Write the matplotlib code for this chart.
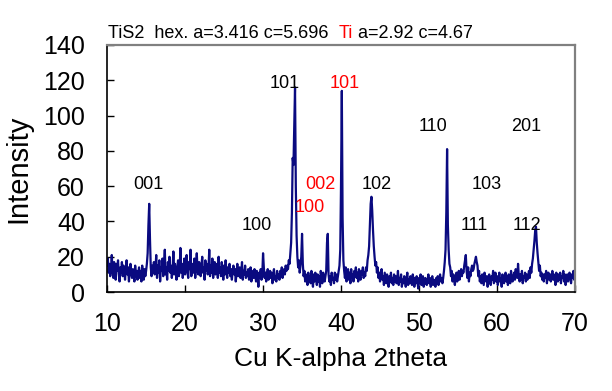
#!/usr/bin/env python
# XRD pattern of TiS2 / Ti film, Cu K-alpha

import numpy as np
import matplotlib
matplotlib.use("Agg")
from matplotlib import pyplot as plt

plt.rcParams['font.family'] = ['Liberation Sans Narrow', 'Liberation Sans', 'DejaVu Sans']

# 2theta sampling, 10.0 .. 70.0 in 0.1 steps
two_theta = np.arange(100, 701) / 10.0

# intensity, one row per degree
intensity = [
    15, 19, 11, 16, 9, 14, 21, 12, 8, 17,     # 10
    13, 7, 16, 12, 18, 10, 6, 14, 11, 17,     # 11
    9, 15, 12, 7, 13, 18, 10, 14, 6, 12,      # 12
    16, 10, 8, 13, 11, 6, 15, 9, 12, 7,       # 13
    11, 14, 8, 12, 6, 15, 10, 7, 13, 9,       # 14
    12, 16, 22, 38, 50, 30, 14, 9, 15, 11,    # 15
    17, 10, 13, 21, 8, 15, 11, 18, 6, 14,     # 16
    12, 19, 9, 16, 24, 10, 14, 7, 17, 12,     # 17
    20, 11, 15, 8, 13, 23, 10, 16, 12, 7,     # 18
    14, 18, 9, 12, 25, 11, 16, 8, 13, 19,     # 19
    10, 15, 21, 12, 8, 17, 13, 24, 9, 14,     # 20
    16, 11, 19, 8, 14, 22, 12, 10, 17, 13,    # 21
    9, 15, 20, 11, 14, 7, 18, 12, 16, 10,     # 22
    13, 24, 9, 15, 11, 19, 8, 14, 17, 10,     # 23
    12, 16, 8, 20, 11, 14, 9, 17, 13, 7,      # 24
    15, 10, 18, 12, 8, 14, 11, 16, 9, 13,     # 25
    7, 12, 15, 10, 13, 6, 11, 16, 9, 12,      # 26
    14, 8, 11, 17, 7, 12, 10, 15, 8, 11,      # 27
    9, 13, 7, 11, 14, 6, 10, 12, 8, 13,       # 28
    10, 6, 12, 9, 3, 11, 8, 13, 7, 10,        # 29
    22, 14, 8, 11, 6, 10, 13, 7, 9, 12,       # 30
    8, 11, 5, 10, 13, 7, 9, 6, 12, 8,         # 31
    10, 7, 12, 9, 14, 8, 11, 13, 10, 15,      # 32
    12, 15, 13, 18, 16, 22, 28, 45, 76, 72,   # 33
    95, 116, 60, 32, 20, 14, 18, 11, 15, 20,  # 34
    33, 16, 9, 12, 6, 10, 8, 4, 11, 7,        # 35
    9, 5, 12, 7, 3, 10, 6, 11, 8, 4,          # 36
    10, 6, 9, 3, 12, 7, 5, 11, 8, 6,          # 37
    9, 12, 28, 33, 10, 6, 9, 4, 11, 7,        # 38
    8, 5, 11, 7, 10, 6, 9, 12, 15, 24,        # 39
    62, 114, 42, 18, 12, 8, 14, 6, 10, 13,    # 40
    7, 11, 5, 13, 8, 10, 6, 12, 9, 14,        # 41
    8, 11, 6, 13, 9, 7, 12, 10, 14, 8,        # 42
    11, 9, 14, 12, 18, 21, 26, 38, 50, 54,    # 43
    46, 35, 26, 20, 15, 17, 11, 14, 8, 11,    # 44
    6, 10, 13, 7, 9, 4, 11, 8, 5, 10,         # 45
    7, 3, 9, 6, 11, 5, 8, 4, 10, 6,           # 46
    9, 5, 7, 12, 4, 8, 6, 10, 3, 7,           # 47
    5, 9, 6, 3, 8, 11, 4, 7, 5, 9,            # 48
    6, 4, 10, 7, 3, 8, 5, 9, 6, 2,            # 49
    8, 5, 10, 4, 7, 9, 3, 6, 8, 5,            # 50
    4, 7, 10, 5, 8, 3, 6, 9, 4, 7,            # 51
    6, 3, 8, 5, 9, 4, 7, 10, 6, 8,            # 52
    5, 8, 12, 17, 24, 45, 81, 38, 24, 16,     # 53
    14, 9, 12, 6, 10, 7, 4, 9, 11, 6,         # 54
    8, 12, 7, 10, 13, 9, 12, 11, 15, 18,      # 55
    21, 12, 8, 14, 6, 11, 9, 13, 15, 12,      # 56
    13, 16, 18, 20, 17, 15, 9, 12, 6, 9,      # 57
    5, 10, 7, 4, 11, 8, 6, 9, 3, 8,           # 58
    10, 6, 4, 9, 7, 12, 5, 8, 11, 6,          # 59
    9, 4, 7, 11, 6, 8, 3, 10, 7, 5,           # 60
    8, 11, 6, 9, 4, 10, 7, 5, 12, 8,          # 61
    6, 9, 11, 7, 13, 10, 8, 16, 9, 6,         # 62
    10, 7, 12, 5, 9, 8, 11, 6, 10, 7,         # 63
    9, 12, 8, 14, 11, 16, 19, 24, 29, 35,     # 64
    37, 28, 22, 17, 12, 15, 9, 11, 7, 10,     # 65
    6, 10, 8, 12, 5, 9, 11, 7, 10, 6,         # 66
    9, 12, 7, 10, 8, 4, 11, 9, 6, 10,         # 67
    7, 11, 5, 9, 8, 12, 6, 10, 4, 8,          # 68
    10, 6, 9, 11, 7, 5, 10, 8, 12, 7,         # 69
    9,                                        # 70
]

# reflection labels (text, 2theta, intensity, colour)
peak_labels = ['001', '100', '101', '101', '002', '100', '102', '110', '201', '103', '111', '112']
label_x = [15.3, 29.2, 32.8, 40.5, 37.3, 36.0, 44.6, 51.8, 63.8, 58.7, 57.1, 63.8]
label_y = [61, 38, 118, 118, 61, 48, 61, 94, 94, 61, 38, 38]
label_colors = ['black', 'black', 'black', 'red', 'red', 'red',
                'black', 'black', 'black', 'black', 'black', 'black']


def main():
    fig = plt.figure(figsize=(6.12, 3.91), dpi=100)
    ax = fig.add_axes([0.175, 0.253, 0.7645, 0.632])

    ax.plot(two_theta, intensity, color='#0a0a80', lw=1.6)

    for txt, x, y, c in zip(peak_labels, label_x, label_y, label_colors):
        ax.text(x, y, txt, color=c, fontsize=13, ha='center', va='center')

    ax.set_xlim(10, 70)
    ax.set_ylim(0, 140)
    ax.set_xticks(range(10, 71, 10))
    ax.set_yticks(range(0, 141, 20))
    ax.tick_params(direction='in', length=5, width=1, labelsize=18,
                   top=False, right=False)
    ax.tick_params(axis='x', pad=14)
    ax.tick_params(axis='y', pad=16)
    for side in ['left', 'bottom']:
        ax.spines[side].set_color('black')
        ax.spines[side].set_linewidth(1.2)
    for side in ['top', 'right']:
        ax.spines[side].set_color('#808080')
        ax.spines[side].set_linewidth(1.6)

    ax.set_xlabel('Cu K-alpha 2theta', fontsize=19, labelpad=8)
    ax.set_ylabel('Intensity', fontsize=21, labelpad=8)

    # header line, "Ti" in red
    t1 = ax.text(0.002, 1.01, 'TiS2  hex. a=3.416 c=5.696  ', transform=ax.transAxes,
                 fontsize=13, va='bottom', ha='left')
    t2 = ax.annotate('Ti', xy=(1, 0), xycoords=t1, va='bottom', ha='left',
                     fontsize=13, color='red')
    ax.annotate(' a=2.92 c=4.67', xy=(1, 0), xycoords=t2, va='bottom', ha='left',
                fontsize=13)

    fig.savefig('out.png', dpi=100)


if __name__ == "__main__":
    main()
